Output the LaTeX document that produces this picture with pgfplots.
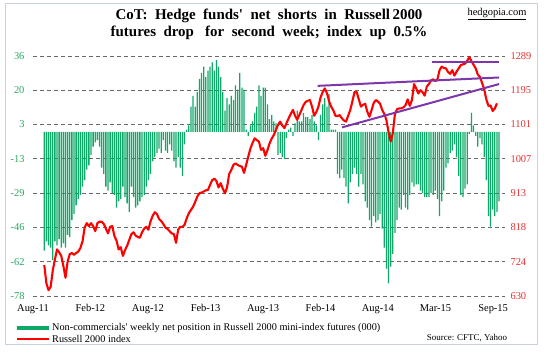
\documentclass[border=0pt]{standalone}
\usepackage{fontspec}
\setmainfont{Liberation Serif}
\usepackage{pgfplots}
\pgfplotsset{compat=1.18}
\definecolor{barg}{RGB}{16,168,104}
\definecolor{tickg}{RGB}{40,170,100}
\definecolor{tickr}{RGB}{225,50,50}
\definecolor{purp}{RGB}{125,55,170}
\definecolor{gridc}{RGB}{105,105,105}
\definecolor{framec}{RGB}{200,210,222}
\begin{document}
\begin{tikzpicture}[x=1bp,y=1bp]
\useasboundingbox (0,0) rectangle (544,358);
\draw[framec, line width=0.8bp] (5.5,14) rectangle (537.5,354.5);
\begin{axis}[
  at={(33bp,62bp)}, anchor=south west,
  scale only axis, width=472bp, height=240bp,
  xmin=-5.3, xmax=216.8, ymin=-78, ymax=36,
  axis line style={draw=none}, major tick length=0,
  /pgf/number format/assume math mode=true,
  ytick={-78,-61.714,-45.429,-29.143,-12.857,3.429,19.714,36},
  yticklabels={-78,-62,-46,-29,-13,3,20,36},
  yticklabel style={text=tickg, font=\fontsize{10.5}{12}\selectfont, xshift=-5bp},
  ymajorgrids, grid style={gridc, dash pattern=on 4bp off 3bp, line width=0.75bp},
  xtick={-5.3,21.7,48.8,75.9,103,130,157,184.1,211.2},
  xticklabels={Aug-11,Feb-12,Aug-12,Feb-13,Aug-13,Feb-14,Aug-14,Mar-15,Sep-15},
  xticklabel style={font=\fontsize{10.5}{12}\selectfont, yshift=-5bp},
  legend style={at={(0,0)}, anchor=north west, xshift=-18.5bp, yshift=-25.5bp,
    draw=none, fill=none, inner sep=0pt, row sep=0pt,
    font=\fontsize{10.3}{11}\selectfont,
    nodes={inner xsep=1.5bp, inner ysep=1bp, text height=7.8bp, text depth=2bp}},
  legend cell align=left,
]
\addplot[ybar, bar width=1.3bp, fill=barg, draw=none,
  legend image code/.code={\draw[barg, line width=4bp] (0bp,0bp) -- (32bp,0bp);}]
coordinates {
(0,-56.5) (1,-52) (2,-54) (3,-55) (4,-61) (5,-52) (6,-54) (7,-51) (8,-55) (9,-53)
(10,-55) (11,-49) (12,-50) (13,-42) (14,-39) (15,-35) (16,-32) (17,-30) (18,-26) (19,-23)
(20,-18) (21,-16) (22,-11) (23,-7) (24,-5) (25,-4) (26,-7) (27,-17) (28,-20) (29,-26)
(30,-28) (31,-24) (32,-29) (33,-30) (34,-36) (35,-33) (36,-32) (37,-26) (38,-31) (39,-34)
(40,-38) (41,-26) (42,-31) (43,-36) (44,-35) (45,-33) (46,-31) (47,-30) (48,-26) (49,-23)
(50,-20) (51,-14) (52,-12) (53,-10) (54,-8) (55,-10) (56,-4) (57,-9) (58,-10) (59,-6)
(60,-9) (61,-14) (62,-17) (63,-12) (64,-17) (65,-21) (66,-6) (67,1) (68,3) (69,12)
(70,17) (71,12) (72,19) (73,25) (74,28) (75,31) (76,26) (77,29) (78,31) (79,33)
(80,29) (81,34) (82,31) (83,26) (84,19) (85,10) (86,16) (87,13) (88,17) (89,15)
(90,22) (91,20) (92,28) (93,21) (94,20) (95,1) (96,-2) (97,3) (98,5) (99,9)
(100,12) (101,22) (102,17) (103,21) (104,21) (105,13) (106,6) (107,8) (108,5) (109,4)
(110,-11) (111,-10) (112,-12) (113,-13) (114,-3) (115,1) (116,2) (117,-2) (118,4) (119,10)
(120,5) (121,5) (122,9) (123,7) (124,7) (125,6) (126,8) (127,5) (128,3) (129,-4)
(130,8) (131,13) (132,16) (133,12) (134,18) (135,1) (136,1) (137,1) (138,-20) (139,-22)
(140,-18) (141,-22) (142,-26) (143,-34) (144,-24) (145,-20) (146,-17) (147,-20) (148,-26) (149,-20)
(150,-25) (151,-33) (152,-36) (153,-42) (154,-45) (155,-40) (156,-43) (157,-42) (158,-39) (159,-46)
(160,-55) (161,-65) (162,-72) (163,-64) (164,-58) (165,-48) (166,-42) (167,-36) (168,-37) (169,-30)
(170,-36) (171,-37) (172,-30) (173,-24) (174,-26) (175,-25) (176,-25) (177,-28) (178,-29) (179,-31)
(180,-31) (181,-31) (182,-29) (183,-30) (184,-28) (185,-32) (186,-40) (187,-33) (188,-28) (189,-17)
(190,-15) (191,-10) (192,-9) (193,-6) (194,-12) (195,-21) (196,-30) (197,-31) (198,-27) (199,-25)
(200,-1) (201,9) (202,3) (203,-2) (204,-7) (205,-3) (206,-6) (207,-12) (208,-23) (209,-40)
(210,-45) (211,-37) (212,-40) (213,-38) (214,-33)
};
\addlegendentry{Non-commercials\textquotesingle\ weekly net position in Russell 2000 mini-index futures (000)}
\addlegendimage{red, line width=2bp, legend image code/.code={\draw[red, line width=2bp] (0bp,0bp) -- (32bp,0bp);}}
\addlegendentry{Russell 2000 index}
\end{axis}
\begin{axis}[
  at={(33bp,62bp)}, anchor=south west,
  scale only axis, width=472bp, height=240bp,
  xmin=-5.3, xmax=216.8, ymin=630, ymax=1289,
  axis y line*=right, axis x line=none,
  axis line style={draw=none}, major tick length=0,
  /pgf/number format/assume math mode=true,
  ytick={630,724.14,818.29,912.43,1006.57,1100.71,1194.86,1289},
  yticklabels={630,724,818,913,1007,1101,1195,1289},
  yticklabel style={text=tickr, font=\fontsize{10.5}{12}\selectfont, xshift=2bp},
]
\addplot[red, line width=2.1bp, line join=round] coordinates {
(0,715) (1,665) (2,646) (3,655) (4,700) (5,730) (6,758) (7,750) (8,740) (9,712)
(10,680) (11,725) (12,745) (13,748) (14,743) (15,748) (16,752) (17,762) (18,780) (19,818)
(20,830) (21,822) (22,830) (23,822) (24,808) (25,830) (26,834) (27,834) (28,828) (29,815)
(30,802) (31,820) (32,822) (33,795) (34,782) (35,758) (36,764) (37,740) (38,756) (39,768)
(40,784) (41,800) (42,805) (43,796) (44,792) (45,790) (46,805) (47,815) (48,820) (49,812)
(50,835) (51,850) (52,860) (53,855) (54,842) (55,836) (56,828) (57,818) (58,814) (59,808)
(60,802) (61,800) (62,776) (63,812) (64,820) (65,820) (66,825) (67,843) (68,857) (69,866)
(70,875) (71,888) (72,903) (73,912) (74,914) (75,917) (76,920) (77,921) (78,935) (79,948)
(80,952) (81,946) (82,928) (83,940) (84,925) (85,912) (86,928) (87,965) (88,976) (89,990)
(90,994) (91,990) (92,987) (93,985) (94,968) (95,990) (96,1013) (97,1035) (98,1050) (99,1063)
(100,1058) (101,1054) (102,1031) (103,1036) (104,1015) (105,1030) (106,1049) (107,1062) (108,1072) (109,1086)
(110,1100) (111,1109) (112,1098) (113,1091) (114,1105) (115,1118) (116,1130) (117,1141) (118,1125) (119,1114)
(120,1127) (121,1140) (122,1154) (123,1163) (124,1166) (125,1168) (126,1150) (127,1125) (128,1135) (129,1150)
(130,1175) (131,1190) (132,1200) (133,1187) (134,1165) (135,1150) (136,1140) (137,1125) (138,1124) (139,1127)
(140,1118) (141,1112) (142,1109) (143,1125) (144,1141) (145,1165) (146,1190) (147,1190) (148,1170) (149,1150)
(150,1155) (151,1158) (152,1136) (153,1122) (154,1140) (155,1160) (156,1168) (157,1164) (158,1158) (159,1141)
(160,1130) (161,1113) (162,1080) (163,1054) (164,1077) (165,1130) (166,1143) (167,1145) (168,1145) (169,1148)
(170,1154) (171,1170) (172,1152) (173,1168) (174,1212) (175,1200) (176,1186) (177,1195) (178,1190) (179,1180)
(180,1205) (181,1212) (182,1222) (183,1225) (184,1220) (185,1225) (186,1250) (187,1260) (188,1256) (189,1255)
(190,1245) (191,1240) (192,1250) (193,1235) (194,1246) (195,1255) (196,1264) (197,1266) (198,1268) (199,1276)
(200,1286) (201,1275) (202,1265) (203,1255) (204,1238) (205,1232) (206,1215) (207,1198) (208,1170) (209,1152)
(210,1153) (211,1138) (212,1145) (213,1159)
};
\addplot[purp, line width=2bp] coordinates {(128.6,1207) (214,1230)};
\addplot[purp, line width=2bp] coordinates {(140.1,1093) (214,1212)};
\addplot[purp, line width=2bp] coordinates {(182.5,1273) (214,1273)};
\end{axis}
\node[font=\fontsize{15}{17.4}\selectfont\bfseries, align=center] at (269,333.7)
  {CoT:\ \ Hedge\ \ funds\textquotesingle\ \ net\ \ shorts\ \ in\ \ Russell\,2000\\futures\ \ drop\ \ \ for\ \ second\ \ week;\ \ index\ \ up\ \ 0.5\%};
\node[font=\fontsize{10.5}{12}\selectfont] at (497,344) {\underline{hedgopia.com}};
\node[font=\fontsize{9}{10}\selectfont] at (467,19.5) {Source: CFTC, Yahoo};
\end{tikzpicture}
\end{document}
